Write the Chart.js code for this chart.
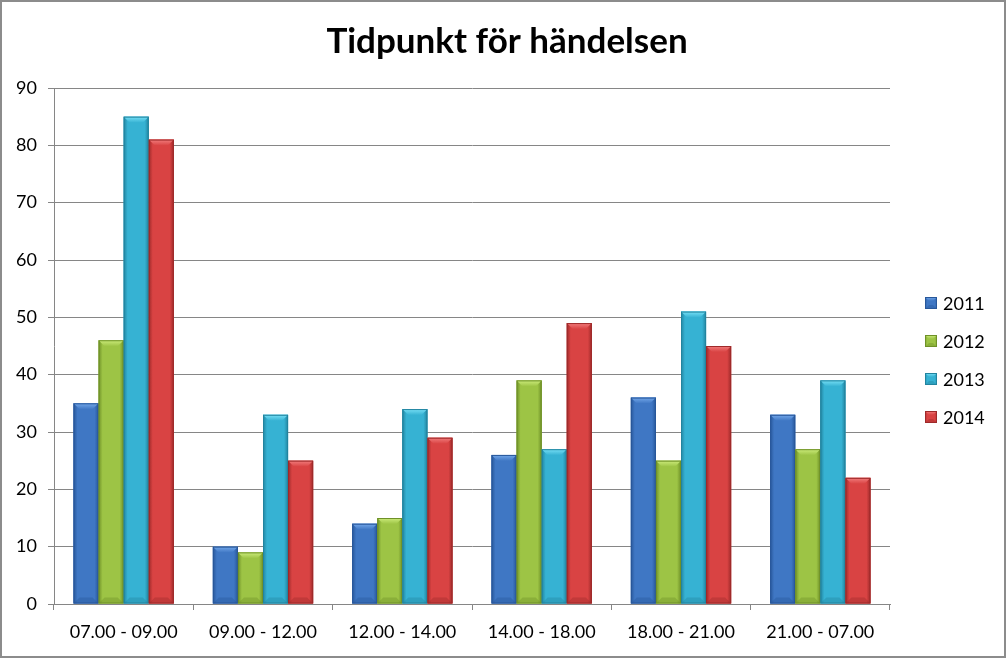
<!DOCTYPE html>
<html>
<head>
<meta charset="utf-8">
<script src="https://cdn.jsdelivr.net/npm/chart.js@4/dist/chart.umd.min.js"></script>
<style>
html,body{margin:0;padding:0;background:#fff;}
#wrap{position:absolute;left:0;top:0;width:1006px;height:658px;box-sizing:border-box;border:2px solid #8c8c8c;}
canvas{display:block;}
</style>
</head>
<body>
<div id="wrap"><canvas id="c" width="1002" height="654"></canvas></div>
<script>
const categories = ["07.00 - 09.00","09.00 - 12.00","12.00 - 14.00","14.00 - 18.00","18.00 - 21.00","21.00 - 07.00"];
const seriesNames = ["2011","2012","2013","2014"];
const values2011 = [35,10,14,26,36,33];
const values2012 = [46,9,15,39,25,27];
const values2013 = [85,33,34,27,51,39];
const values2014 = [81,25,29,49,45,22];
const yTicks = [0,10,20,30,40,50,60,70,80,90];

const mainColors = ["#3f77c4","#9dc445","#36b2d3","#d94343"];
const edgeColors = ["#28579a","#6f9128","#22849f","#9e2a2a"];
const lightColors = ["#74a8ea","#cdec7c","#78e0f6","#f27e7e"];

const FONT = "Lato, 'Open Sans', sans-serif";

function drawBevelRect(ctx, l, t, w, h, di, bvMax) {
  const r = l + w, b = t + h;
  const bv = Math.min(bvMax, h/2, w/2);
  const g = ctx.createLinearGradient(l,0,r,0);
  g.addColorStop(0, edgeColors[di]);
  g.addColorStop(0.16, mainColors[di]);
  g.addColorStop(0.84, mainColors[di]);
  g.addColorStop(1, edgeColors[di]);
  ctx.fillStyle = g;
  ctx.fillRect(l, t, w, h);
  ctx.beginPath();
  ctx.moveTo(l, t); ctx.lineTo(r, t); ctx.lineTo(r - bv, t + bv); ctx.lineTo(l + bv, t + bv);
  ctx.closePath();
  const tg = ctx.createLinearGradient(0, t, 0, t + bv);
  tg.addColorStop(0, lightColors[di]);
  tg.addColorStop(1, mainColors[di]);
  ctx.fillStyle = tg;
  ctx.fill();
  ctx.beginPath();
  ctx.moveTo(l, b); ctx.lineTo(r, b); ctx.lineTo(r - bv, b - bv); ctx.lineTo(l + bv, b - bv);
  ctx.closePath();
  ctx.globalAlpha = 0.4;
  ctx.fillStyle = edgeColors[di];
  ctx.fill();
  ctx.globalAlpha = 1;
  ctx.strokeStyle = edgeColors[di];
  ctx.lineWidth = 1;
  ctx.strokeRect(l + 0.5, t + 0.5, w - 1, h - 1);
}

const bevelPlugin = {
  id: 'bevel',
  afterDatasetsDraw(chart) {
    const ctx = chart.ctx;
    chart.data.datasets.forEach((ds, di) => {
      const meta = chart.getDatasetMeta(di);
      meta.data.forEach(bar => {
        const w = bar.width;
        ctx.save();
        drawBevelRect(ctx, bar.x - w/2, bar.y, w, bar.base - bar.y, di, 6);
        ctx.restore();
      });
    });
  }
};

const legendPlugin = {
  id: 'customLegend',
  afterDraw(chart) {
    const ctx = chart.ctx;
    const x0 = chart.chartArea.right + 35;
    const yMid = 358;
    const step = 38;
    ctx.save();
    ctx.font = "18px " + FONT;
    ctx.textBaseline = 'middle';
    ctx.textAlign = 'left';
    seriesNames.forEach((n, i) => {
      const y = yMid + (i - 1.5) * step;
      drawBevelRect(ctx, x0, y - 6, 12, 12, i, 4);
      ctx.fillStyle = '#000';
      ctx.fillText(n, x0 + 18, y + 1);
    });
    ctx.restore();
  }
};

const allSeries = [values2011, values2012, values2013, values2014];

new Chart(document.getElementById('c'), {
  type: 'bar',
  data: {
    labels: categories,
    datasets: seriesNames.map((n, i) => ({
      label: n,
      data: allSeries[i],
      backgroundColor: mainColors[i],
      borderWidth: 0,
      categoryPercentage: 0.72,
      barPercentage: 1.0,
      yAxisID: 'y'
    }))
  },
  options: {
    responsive: false,
    animation: false,
    devicePixelRatio: 1,
    layout: { padding: { left: 8, right: 0, top: 0, bottom: 0 } },
    plugins: {
      title: {
        display: true,
        text: 'Tidpunkt för händelsen',
        color: '#000',
        font: { family: FONT, size: 35, weight: 'bold', lineHeight: 1.2 },
        padding: { top: 19, bottom: 25 }
      },
      legend: { display: false },
      tooltip: { enabled: false }
    },
    scales: {
      x: {
        offset: true,
        afterFit(axis) { axis.height = 52; },
        grid: { display: true, drawOnChartArea: false, drawTicks: true, tickLength: 6, color: '#868686', offset: true },
        border: { display: true, color: '#868686', width: 1 },
        ticks: { color: '#000', font: { family: FONT, size: 18 }, padding: 11, maxRotation: 0 }
      },
      y: {
        min: 0, max: 90,
        afterFit(axis) { axis.width = 44; },
        afterBuildTicks(axis) { axis.ticks = yTicks.map(v => ({ value: v })); },
        grid: { color: '#868686', lineWidth: 1, tickLength: 6 },
        border: { display: true, color: '#868686', width: 1 },
        ticks: { color: '#000', font: { family: FONT, size: 18 }, padding: 11 }
      },
      legendSpace: {
        type: 'linear',
        position: 'right',
        display: true,
        min: 0, max: 1,
        afterFit(axis) { axis.width = 114; },
        grid: { display: false, drawTicks: false },
        border: { display: false },
        ticks: { display: false }
      }
    }
  },
  plugins: [bevelPlugin, legendPlugin]
});
</script>
</body>
</html>
